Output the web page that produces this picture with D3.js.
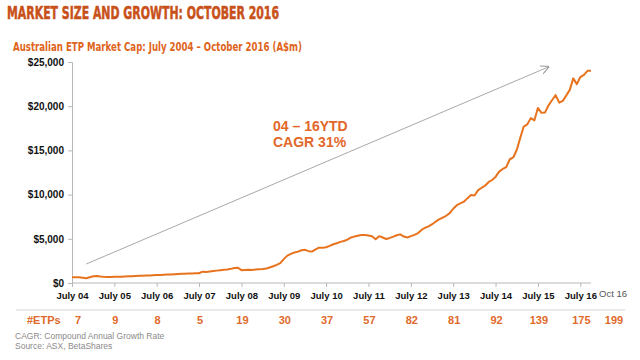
<!DOCTYPE html>
<html><head><meta charset="utf-8">
<script src="https://cdn.jsdelivr.net/npm/d3@7"></script>
<style>
html,body{margin:0;padding:0;background:#fff;}
svg{display:block;}
</style></head>
<body><svg id="c" width="640" height="360"></svg>
<script>
// ---- data ----
const startMonth = "2004-07";
const endMonth = "2016-10";
// Monthly market cap (A$m), July 2004 .. October 2016
const marketCap = [
 640,640,650,600,530,650,760,780,730,700,690,680,
 700,710,720,740,760,770,790,810,830,850,860,880,
 900,910,930,950,970,1000,1020,1040,1060,1070,1080,1090,
 1100,1280,1250,1300,1350,1400,1450,1500,1530,1600,1700,1730,
 1450,1480,1500,1480,1520,1550,1580,1650,1750,1900,2050,2250,
 2700,3100,3300,3450,3550,3700,3750,3600,3550,3800,4000,4000,
 4050,4200,4380,4500,4650,4750,4900,5150,5250,5350,5430,5420,
 5380,5300,4950,5300,5150,4980,5100,5250,5400,5500,5250,5150,
 5300,5450,5650,6000,6250,6400,6650,6950,7200,7400,7600,7900,
 8400,8800,9000,9200,9600,9950,9900,10500,10750,11000,11400,11650,
 12000,12600,12900,13100,14000,14200,15100,16500,17700,17950,18650,18400,
 19800,19250,19300,20100,20700,21250,20400,20600,21200,21850,23150,22500,
 23300,23550,24000,24000
];
const tickYears = ["04","05","06","07","08","09","10","11","12","13","14","15","16"];
const yTicks = [0,5000,10000,15000,20000,25000];
const etpCounts = [7,9,8,5,19,30,37,57,82,81,92,139,175,199];
const footnotes = ["CAGR: Compound Annual Growth Rate","Source: ASX, BetaShares"];

// ---- setup ----
const svg = d3.select("#c");
const parseM = d3.timeParse("%Y-%m");
const t0 = parseM(startMonth), t1 = parseM(endMonth);
const data = marketCap.map((v,i)=>({date:d3.timeMonth.offset(t0,i), value:v}));

const x = d3.scaleTime().domain([t0,t1]).range([72,591]);
const y = d3.scaleLinear().domain([0,25000]).range([283,62]);

const orange = "#E8731E";
const titleCol = "#C8511A";
const subCol = "#DE6420";

// title
svg.append("text").attr("x",7).attr("y",19)
  .attr("font-family","'Liberation Sans Narrow','DejaVu Sans Condensed',Arial,sans-serif")
  .attr("font-weight","bold").attr("font-size",17.5)
  .attr("stroke",titleCol).attr("stroke-width",0.5)
  .attr("textLength",272).attr("lengthAdjust","spacingAndGlyphs")
  .attr("fill",titleCol).text("MARKET SIZE AND GROWTH: OCTOBER 2016");
svg.append("text").attr("x",13).attr("y",51)
  .attr("font-family","'Liberation Sans Narrow','DejaVu Sans Condensed',Arial,sans-serif")
  .attr("font-weight","bold").attr("font-size",13)
  .attr("textLength",289).attr("lengthAdjust","spacingAndGlyphs")
  .attr("fill",subCol).text("Australian ETP Market Cap: July 2004 \u2013 October 2016 (A$m)");

// y axis
const yAxis = d3.axisLeft(y).tickValues(yTicks).tickSize(4).tickPadding(4)
  .tickFormat(d=>"$"+d3.format(",")(d));
const gy = svg.append("g").attr("transform","translate(72,0)").call(yAxis);
gy.select(".domain").attr("stroke","#b8b8b8");
gy.selectAll(".tick line").attr("stroke","#b8b8b8");
gy.selectAll(".tick text").attr("font-family","Arial,'Liberation Sans',sans-serif")
  .attr("font-weight","bold").attr("font-size",10).attr("fill","#111");

// x axis
const julys = tickYears.map(s=>parseM("20"+s+"-07"));
const xAxis = d3.axisBottom(x).tickValues(julys).tickSize(4).tickPadding(5)
  .tickFormat((d,i)=>"July "+tickYears[i]);
const gx = svg.append("g").attr("transform","translate(0,283)").call(xAxis);
gx.select(".domain").attr("stroke","#b8b8b8").attr("d","M72,0H591");
gx.selectAll(".tick line").attr("stroke","#b8b8b8");
gx.selectAll(".tick text").attr("font-family","Arial,'Liberation Sans',sans-serif")
  .attr("font-weight","bold").attr("font-size",9.5).attr("fill","#111");
svg.append("text").attr("x",x(t1)+22).attr("y",297).attr("text-anchor","middle")
  .attr("font-family","Arial,'Liberation Sans',sans-serif").attr("font-size",9.5)
  .attr("fill","#555").text("Oct 16");

// arrow
svg.append("defs").append("marker").attr("id","arr").attr("viewBox","0 0 10 10")
  .attr("refX",9).attr("refY",5).attr("markerWidth",9).attr("markerHeight",9)
  .attr("markerUnits","userSpaceOnUse").attr("orient","auto")
  .append("path").attr("d","M0,0L10,5L0,10").attr("fill","none").attr("stroke","#9a9a9a").attr("stroke-width",1.2);
svg.append("line")
  .attr("x1",x(d3.timeMonth.offset(t0,4.5))).attr("y1",y(2150))
  .attr("x2",x(parseM("2015-10"))).attr("y2",y(24450))
  .attr("stroke","#a8a8a8").attr("stroke-width",1).attr("marker-end","url(#arr)");

// line
const line = d3.line().x(d=>x(d.date)).y(d=>y(d.value));
svg.append("path").datum(data).attr("d",line).attr("fill","none")
  .attr("stroke",orange).attr("stroke-width",2).attr("stroke-linejoin","round");

// annotation
const ann = svg.append("text").attr("font-family","Arial,'Liberation Sans',sans-serif")
  .attr("font-weight","bold").attr("font-size",14).attr("fill","#E2682A");
ann.append("tspan").attr("x",273).attr("y",131).text("04 \u2013 16YTD");
ann.append("tspan").attr("x",273).attr("y",147).text("CAGR  31%");

// separator
svg.append("line").attr("x1",16).attr("x2",625).attr("y1",310).attr("y2",310)
  .attr("stroke","#d4d4d4").attr("stroke-width",1);

// #ETPs row
svg.append("text").attr("x",27).attr("y",324)
  .attr("font-family","Arial,'Liberation Sans',sans-serif").attr("font-weight","bold")
  .attr("font-size",11).attr("fill","#E06A2A").text("#ETPs");
const etpDates = julys.concat([t1]);
svg.selectAll("text.etp").data(etpCounts).enter().append("text").attr("class","etp")
  .attr("x",(d,i)=> i===0 ? x(etpDates[i])+6 : (i===etpCounts.length-1 ? x(etpDates[i])+23 : x(etpDates[i])+1))
  .attr("y",324).attr("text-anchor","middle")
  .attr("font-family","Arial,'Liberation Sans',sans-serif").attr("font-weight","bold")
  .attr("font-size",11).attr("fill","#E06A2A").text(d=>d);

// footnotes
svg.selectAll("text.fn").data(footnotes).enter().append("text").attr("class","fn")
  .attr("x",15).attr("y",(d,i)=>339+i*10)
  .attr("font-family","Arial,'Liberation Sans',sans-serif").attr("font-size",8.5)
  .attr("fill","#8a8a8a").text(d=>d);
</script>
</body></html>
